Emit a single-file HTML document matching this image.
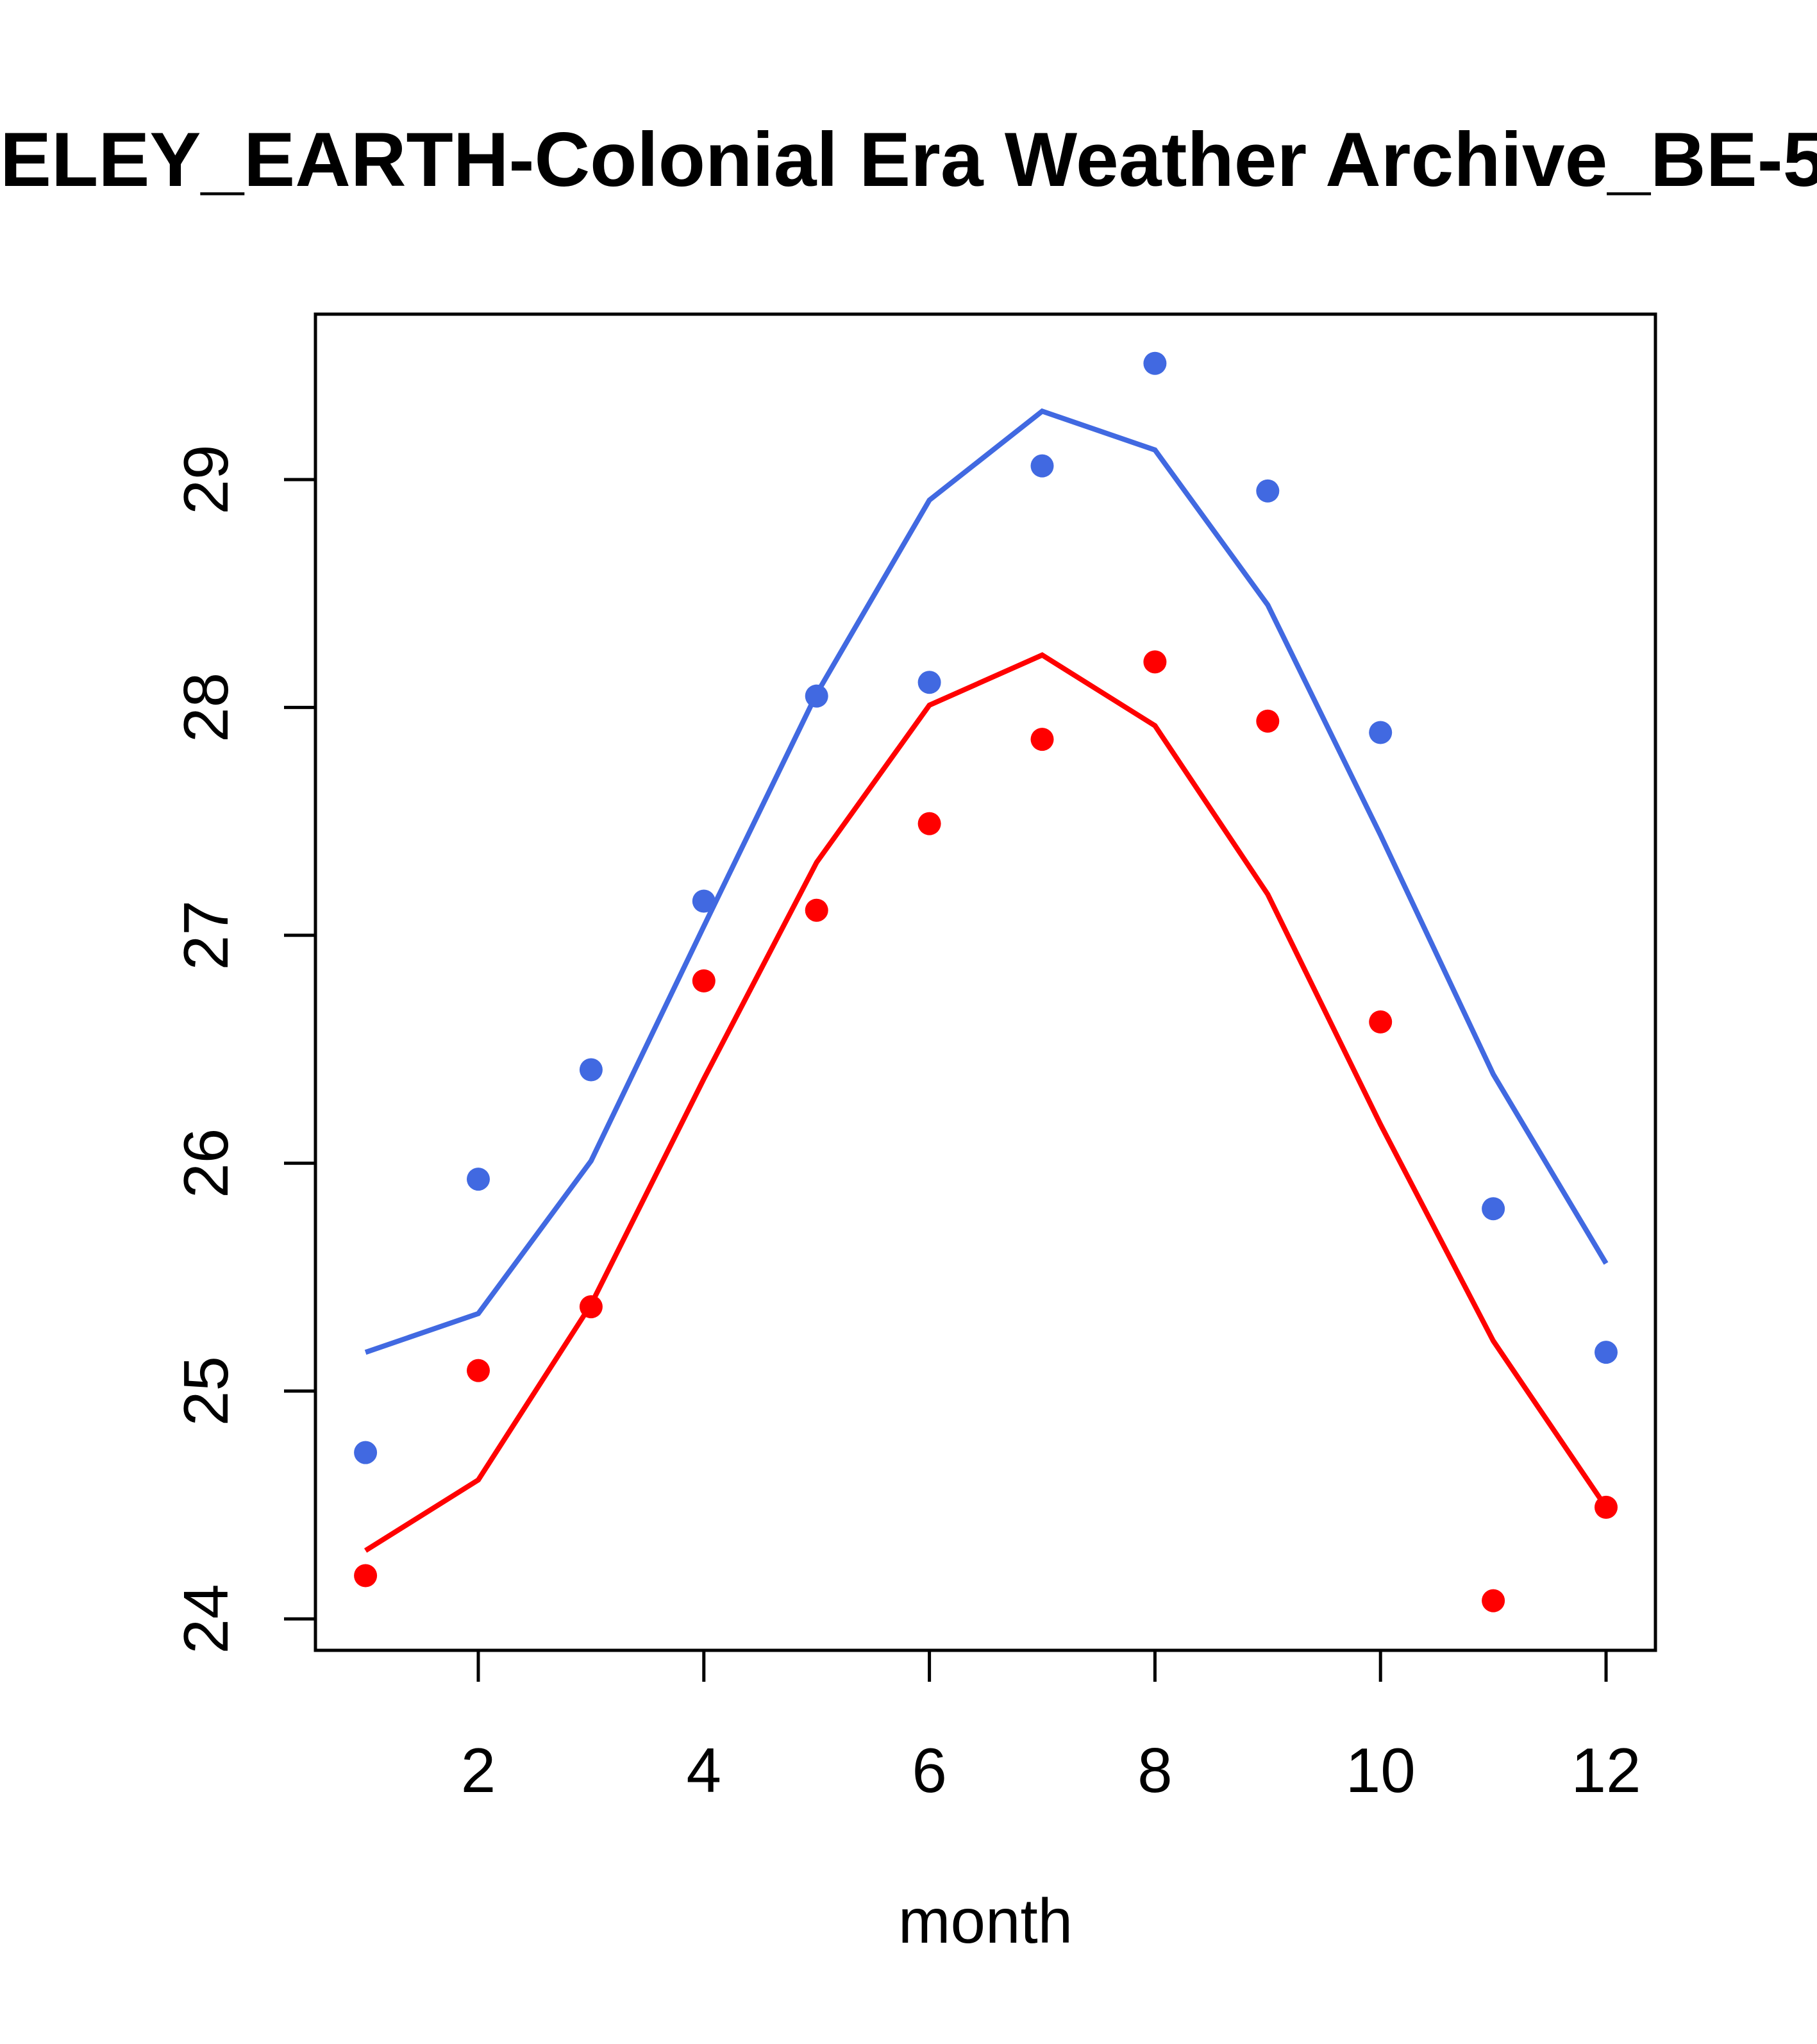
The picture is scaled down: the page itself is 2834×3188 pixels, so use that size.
<!DOCTYPE html>
<html><head><meta charset="utf-8"><style>html,body{margin:0;padding:0;background:#fff}svg{display:block}</style></head>
<body>
<svg id="chart" width="2834" height="3188" viewBox="0 0 2834 3188" xmlns="http://www.w3.org/2000/svg" font-family="'Liberation Sans', sans-serif">
<rect width="2834" height="3188" fill="#fff"/>
<text x="-340" y="290" text-anchor="start" font-size="120" font-weight="bold">BERKELEY_EARTH-Colonial Era Weather Archive_BE-5071</text>
<rect x="492" y="490" width="2090" height="2084" fill="none" stroke="#000" stroke-width="5"/>
<g id="axes"></g>
<g id="series"></g>
<text x="1537" y="3030" text-anchor="middle" font-size="98">month</text>
</svg>
<script>
const months=[1,2,3,4,5,6,7,8,9,10,11,12];
const bluePoints=[24.73,25.93,26.41,27.15,28.05,28.11,29.06,29.51,28.95,27.89,25.80,25.17];
const blueLine=[25.17,25.34,26.01,27.04,28.06,28.91,29.30,29.13,28.45,27.44,26.39,25.56];
const redPoints=[24.19,25.09,25.37,26.80,27.11,27.49,27.86,28.20,27.94,26.62,24.08,24.49];
const redLine=[24.30,24.61,25.38,26.37,27.32,28.01,28.23,27.92,27.18,26.17,25.22,24.49];
const xTicks=[2,4,6,8,10,12];
const yTicks=[24,25,26,27,28,29];
const NS="http://www.w3.org/2000/svg";
function xs(m){return 746+(m-2)*(2505-746)/10;}
function ys(v){return 2525-(v-24)*(2525-748)/5;}
function mk(t,a){const e=document.createElementNS(NS,t);for(const k in a)e.setAttribute(k,a[k]);return e;}
const axes=document.getElementById('axes');
xTicks.forEach(t=>{
 const l=mk('line',{x1:xs(t),x2:xs(t),y1:2574,y2:2623,stroke:'#000','stroke-width':5});
 
 
 axes.appendChild(l);
 const tx=mk('text',{x:xs(t),y:2795,'text-anchor':'middle','font-size':98});
 
 
 tx.textContent=t;axes.appendChild(tx);
});
yTicks.forEach(t=>{
 const l=mk('line',{x1:443,x2:492,y1:ys(t),y2:ys(t),stroke:'#000','stroke-width':5});
 
 
 axes.appendChild(l);
 const tx=mk('text',{x:0,y:0,'text-anchor':'middle','font-size':98,transform:`translate(355,${ys(t)}) rotate(-90)`});
 
 
 tx.textContent=t;axes.appendChild(tx);
});
const ser=document.getElementById('series');
function line(vals,col,name){
 const p=mk('polyline',{points:vals.map((v,i)=>xs(months[i])+','+ys(v)).join(' '),fill:'none',stroke:col,'stroke-width':8});
 
 
 ser.appendChild(p);
}
function pts(vals,col,name){
 vals.forEach((v,i)=>{
  const c=mk('circle',{cx:xs(months[i]),cy:ys(v),r:18,fill:col});
  
  
  ser.appendChild(c);
 });
}
line(blueLine,'#4169E1','blue-line');
line(redLine,'#FF0000','red-line');
pts(bluePoints,'#4169E1','blue-point');
pts(redPoints,'#FF0000','red-point');
</script>
</body></html>
